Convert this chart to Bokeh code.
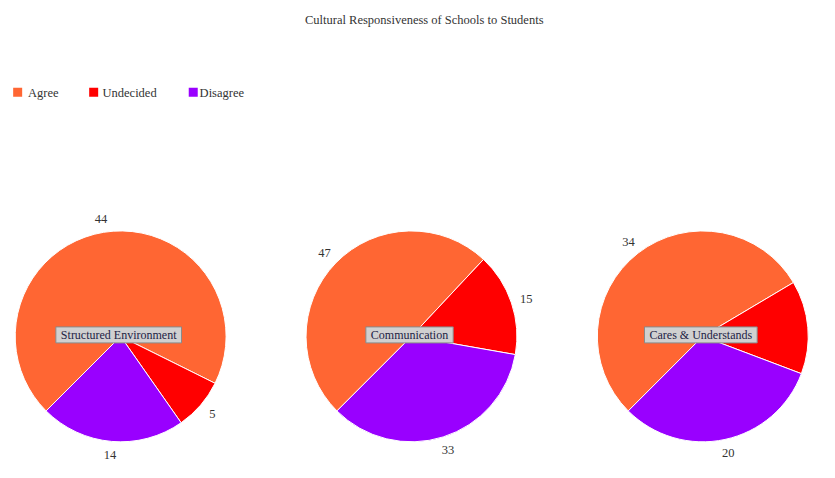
import math
from bokeh.plotting import figure
from bokeh.models import Range1d, ColumnDataSource, Label
from bokeh.core.properties import value
from bokeh.embed import file_html
from bokeh.resources import INLINE

# ---- data ----
title_text = "Cultural Responsiveness of Schools to Students"
responses = ["Agree", "Undecided", "Disagree"]
charts = ["Structured Environment", "Communication", "Cares & Understands"]
agree = [44, 47, 34]
undecided = [5, 15, 9]
disagree = [14, 33, 20]

# ---- style ----
colors = ["#FF6633", "#FF0000", "#9900FF"]
FONT = "Liberation Serif"
SERIF = value(FONT)
W, H = 819, 462
X0, X1 = 0, 835
Y0, Y1 = -478, 0
centers_x = [122.5, 419.0, 716.0]
center_y = 347.5
R = 107.5
LABEL_R = 123.5
START = math.radians(-135.0)   # ccw angle where first slice starts, slices go clockwise

p = figure(width=W, height=H, output_backend="svg", toolbar_location=None,
           x_range=Range1d(X0, X1), y_range=Range1d(Y0, Y1),
           min_border=0, outline_line_color=None)
p.axis.visible = False
p.grid.visible = False
p.background_fill_color = "white"
p.border_fill_color = "white"

# title
p.text(x=[432], y=[-20], text=[title_text], text_font=SERIF, text_font_size="12.5px",
       text_color="#333333", text_align="center", text_baseline="middle")

# legend
leg_sq_x = [17.5, 95.0, 196.5]
leg_tx_x = [28.0, 104.0, 203.0]
p.scatter(x=leg_sq_x, y=[-95.0] * 3, marker="square", size=9, fill_color=colors,
          line_color=None)
p.text(x=leg_tx_x, y=[-95.5] * 3, text=responses, text_font=SERIF, text_font_size="12.5px",
       text_color="#333333", text_align="left", text_baseline="middle")

for i, name in enumerate(charts):
    vals = [agree[i], undecided[i], disagree[i]]
    total = float(sum(vals))
    cx = centers_x[i]
    starts, ends, lx, ly, txt = [], [], [], [], []
    cum = 0.0
    for v in vals:
        a_hi = START - 2 * math.pi * cum / total
        cum += v
        a_lo = START - 2 * math.pi * cum / total
        starts.append(a_lo)
        ends.append(a_hi)
        mid = (a_lo + a_hi) / 2
        tx = cx + LABEL_R * math.cos(mid)
        ty = -center_y + LABEL_R * math.sin(mid)
        # labels that fall beyond the chart edge are not visible (as in the original)
        if X0 + 6 < tx < X1 - 6:
            lx.append(tx)
            ly.append(ty)
            txt.append(str(v))
    src = ColumnDataSource(dict(start=starts, end=ends, color=colors))
    p.wedge(x=cx, y=-center_y, radius=R, start_angle="start", end_angle="end",
            fill_color="color", line_color="white", line_width=1, source=src)
    p.text(x=lx, y=ly, text=txt, text_font=SERIF, text_font_size="12.5px",
           text_color="#333333", text_align="center", text_baseline="middle")
    lab = Label(x=cx - 2, y=-346.0, text=name, text_font=FONT,
                text_font_size="12px", text_color="#222244", text_align="center",
                text_baseline="middle", background_fill_color="#d0d0d0",
                border_line_color="#8a8a8a", border_line_width=1, padding=(5, 1))
    p.add_layout(lab)

open("out.html", "w").write(file_html(p, INLINE))
